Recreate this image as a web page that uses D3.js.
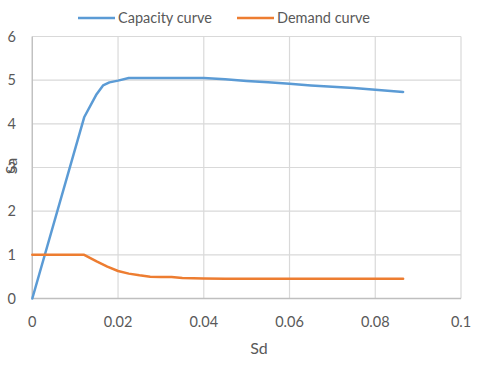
<!DOCTYPE html>
<html><head><meta charset="utf-8">
<script src="https://cdn.jsdelivr.net/npm/d3@7"></script>
<style>body{margin:0;background:#fff;} svg{display:block;}</style>
</head><body>
<script>
const seriesNames = ["Capacity curve", "Demand curve"];
const capacitySd = [0, 0.0121, 0.015, 0.0165, 0.018, 0.02, 0.0225, 0.03, 0.035, 0.04, 0.045, 0.05, 0.055, 0.06, 0.065, 0.07, 0.075, 0.08, 0.0865];
const capacitySa = [0, 4.15, 4.68, 4.88, 4.95, 4.99, 5.05, 5.05, 5.05, 5.05, 5.02, 4.98, 4.95, 4.92, 4.88, 4.85, 4.82, 4.78, 4.73];
const demandSd = [0, 0.0121, 0.015, 0.0175, 0.02, 0.0225, 0.025, 0.0275, 0.03, 0.0325, 0.035, 0.04, 0.045, 0.06, 0.0865];
const demandSa = [1, 1, 0.85, 0.73, 0.63, 0.57, 0.53, 0.5, 0.49, 0.49, 0.47, 0.46, 0.45, 0.45, 0.45];
const xTicks = [0, 0.02, 0.04, 0.06, 0.08, 0.1];
const yTicks = [0, 1, 2, 3, 4, 5, 6];
const colors = ["#5B9BD5", "#ED7D31"];

const W = 480, H = 369;
const svg = d3.select("body").append("svg").attr("width", W).attr("height", H);
const font = "Lato, 'Open Sans', sans-serif";
const x = d3.scaleLinear().domain([0, 0.1]).range([32.3, 461]);
const y = d3.scaleLinear().domain([0, 6]).range([298.5, 36.5]);

// gridlines
svg.append("g").selectAll("line").data(yTicks).join("line")
  .attr("x1", x(0)).attr("x2", x(0.1)).attr("y1", d => y(d)).attr("y2", d => y(d))
  .attr("stroke", "#d9d9d9").attr("stroke-width", 1.2);
svg.append("g").selectAll("line").data(xTicks).join("line")
  .attr("y1", y(0)).attr("y2", y(6)).attr("x1", d => x(d)).attr("x2", d => x(d))
  .attr("stroke", "#d9d9d9").attr("stroke-width", 1.2);
// axis lines
svg.append("line").attr("x1", x(0)).attr("x2", x(0.1)).attr("y1", y(0)).attr("y2", y(0)).attr("stroke", "#bfbfbf").attr("stroke-width", 1.3);
svg.append("line").attr("x1", x(0)).attr("x2", x(0)).attr("y1", y(0)).attr("y2", y(6)).attr("stroke", "#bfbfbf").attr("stroke-width", 1.3);

// tick labels
svg.append("g").selectAll("text").data(yTicks).join("text")
  .attr("x", 16).attr("y", d => y(d)).attr("dy", "0.35em").attr("text-anchor", "end")
  .attr("font-family", font).attr("font-size", 14.5).attr("fill", "#595959").text(d => d);
svg.append("g").selectAll("text").data(xTicks).join("text")
  .attr("x", d => x(d)).attr("y", 327).attr("text-anchor", "middle")
  .attr("font-family", font).attr("font-size", 14.5).attr("fill", "#595959").text(d => d);

// axis titles
svg.append("text").attr("x", 259).attr("y", 354).attr("text-anchor", "middle")
  .attr("font-family", font).attr("font-size", 16).attr("fill", "#595959").text("Sd");
svg.append("text").attr("transform", "translate(17,166) rotate(-90)").attr("text-anchor", "middle")
  .attr("font-family", font).attr("font-size", 16).attr("fill", "#595959").text("Sa");

// lines
const line = d3.line().x(d => x(d[0])).y(d => y(d[1]));
const capData = capacitySd.map((d, i) => [d, capacitySa[i]]);
const demData = demandSd.map((d, i) => [d, demandSa[i]]);
[capData, demData].forEach((data, i) => {
  svg.append("path").datum(data).attr("d", line).attr("fill", "none")
    .attr("stroke", colors[i]).attr("stroke-width", 2.5).attr("stroke-linejoin", "round").attr("stroke-linecap", "round");
});

// legend
const legendX = [78, 237];
seriesNames.forEach((name, i) => {
  svg.append("line").attr("x1", legendX[i]).attr("x2", legendX[i] + 37).attr("y1", 18).attr("y2", 18)
    .attr("stroke", colors[i]).attr("stroke-width", 2.5);
  svg.append("text").attr("x", legendX[i] + 40).attr("y", 18).attr("dy", "0.35em")
    .attr("font-family", font).attr("font-size", 14.5).attr("fill", "#595959").text(name);
});
</script>
</body></html>
